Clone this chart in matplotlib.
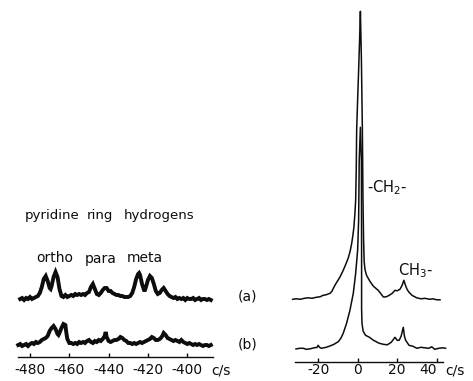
import matplotlib
matplotlib.use("Agg")
import matplotlib.pyplot as plt

# ---------------- data ----------------
# Left panel: pyridine ring hydrogens, frequency in c/s, intensity (arb. units)
ring_x_a = [-485, -484, -483, -482, -481, -480, -479, -478, -477, -476, -475, -474,
            -473, -472, -471, -470, -469.5, -469, -468, -467, -466, -465, -464, -463,
            -462, -461, -460, -459, -458, -457, -456, -455, -454, -453, -452, -451,
            -450, -449, -448, -447, -446, -445, -444, -443, -442, -441, -440, -439,
            -438, -437, -436, -435, -434, -433, -432, -431, -430, -429, -428, -427,
            -426, -425, -424.5, -424, -423, -422, -421.5, -421, -420, -419, -418,
            -417, -416, -415, -414, -413, -412, -411, -410, -409, -408, -407, -406,
            -405, -404, -403, -402, -401, -400, -399, -398, -397, -396, -395, -394,
            -393, -392, -391, -390, -389, -388]
ring_y_a = [0, 1, -1, 1, 0, 2, 0, 1, 2, 3, 6, 12,
            20, 23, 18, 11, 10, 13, 22, 27, 22, 10, 3, 2,
            4, 2, 3, 4, 3, 5, 4, 5, 4, 5, 4, 6,
            7, 12, 15, 10, 5, 4, 6, 9, 11, 11, 8, 8,
            6, 5, 4, 4, 3, 3, 2, 2, 2, 3, 6, 12,
            20, 25, 26, 24, 15, 9, 9, 12, 19, 23, 21,
            15, 8, 5, 6, 9, 11, 8, 5, 3, 2, 1, 2,
            0, 1, 0, 1, -1, 1, 0, 0, 1, -1, 0, 1,
            -1, 0, 0, -1, 0, -1]

ring_x_b = [-486, -485, -484, -483, -482, -481, -480, -479, -478, -477, -476, -475,
            -474, -473, -472, -471, -470, -469, -468, -467, -466, -465.5, -465, -464,
            -463, -462, -461.5, -461, -460, -459, -458, -457, -456, -455, -454, -453,
            -452, -451, -450, -449, -448, -447, -446, -445, -444, -443, -442, -441.5,
            -441, -440, -439, -438, -437, -436, -435, -434, -433, -432, -431, -430,
            -429, -428, -427, -426, -425, -424, -423, -422, -421, -420, -419, -418,
            -417, -416, -415, -414, -413, -412, -411, -410, -409, -408, -407, -406,
            -405, -404, -403, -402, -401, -400, -399, -398, -397, -396, -395, -394,
            -393, -392, -391, -390, -389, -388]
ring_y_b = [0, 1, -1, 0, 1, -1, 1, 2, 1, 3, 2, 3,
            5, 6, 7, 9, 14, 17, 19, 16, 11, 10, 12, 17,
            21, 20, 12, 6, 2, 2, 1, 2, 1, 3, 2, 3,
            2, 4, 5, 3, 2, 4, 3, 5, 4, 6, 9, 13,
            8, 4, 3, 4, 5, 5, 6, 8, 7, 5, 4, 2,
            2, 1, 2, 1, 2, 3, 2, 3, 4, 5, 6, 8,
            7, 5, 5, 6, 8, 12, 10, 7, 6, 5, 4, 5,
            4, 3, 5, 3, 2, 1, 2, 1, 0, 1, 0, 1,
            0, -1, 0, 0, -1, 0]

# Right panel: -CH2- and CH3- region
alk_x_a = [-32.9, -31, -29, -27, -25, -23, -21, -19, -17.5, -16, -14, -13, -12.3,
           -11.5, -10.6, -9, -7.3, -6, -4.8, -3.8, -3.0, -2.4, -1.9, -1.4, -1.0,
           -0.7, -0.5, 0.0, 0.5, 1.0, 1.4, 1.9, 2.4, 2.7, 3.0, 3.3, 3.7, 4.5, 6.2,
           8, 10.4, 12, 13, 14.5, 16, 17.5, 18.9, 20, 21.4, 22.5, 23.4, 24.2, 25,
           26, 27.5, 29.9, 32, 34, 36.6, 38, 40, 41.7]
alk_y_a = [0, 0.5, 0, 1, 1.5, 1, 2, 2.5, 4, 4.5, 6, 8, 11,
           14, 17, 22, 29, 35, 41, 48, 56, 64, 72, 85, 99,
           130, 169, 200, 229, 260, 288, 240, 169, 100, 60, 38, 30, 24, 18,
           13, 9, 5, 2.3, 2.5, 4, 6, 9, 8.5, 10, 14, 19, 14, 10,
           7, 4, 1.5, 0.5, 1, 0, 0.5, -0.5, -0.5]

alk_x_b = [-31.2, -29.5, -27.5, -26, -24, -22, -20.5, -20, -19.3, -18.3, -16, -14,
           -12, -9.8, -8.5, -7.3, -5.6, -3.9, -2.2, -1.0, 0.0, 0.5, 0.8, 1.4,
           1.9, 2.0, 2.0, 2.2, 2.8, 4, 6, 8, 11, 13, 15, 17, 18.9, 20, 21, 22,
           23.1, 23.7, 24.3, 26, 28, 30, 32, 34, 36, 37.5, 39, 41, 43, 44.5]
alk_y_b = [-0.7, 0, 0, -1, -0.5, 0.5, 1, 3, 1, 0, 1, 2.3,
           4, 6.6, 10, 15, 25, 38, 55, 75, 98, 128, 188, 221,
           188, 100, 40, 25, 17, 13, 11, 8, 5, 4, 3.5, 6, 11, 8, 8, 12,
           21, 12, 8, 3, 2, 0, 1, 0.5, 0, 1.5, -1, 0, 0.5, 0]

ring_ticks = [-480, -460, -440, -420, -400]
ring_ticklabels = ["-480", "-460", "-440", "-420", "-400"]
alk_ticks = [-20, 0, 20, 40]
alk_ticklabels = ["-20", "0", "20", "40"]

# ---------------- layout ----------------
W, H = 473, 381
fig = plt.figure(figsize=(W / 100, H / 100), dpi=100)
fig.patch.set_facecolor("white")


def fx(px):
    return px / W


def fy(py):
    return 1 - py / H


ink = "#0d0d0d"

# left axes (1 y-unit = 1 pixel)
axL = fig.add_axes([fx(18), fy(357), fx(213) - fx(18), fy(0) - fy(357)])
axL.set_xlim(-486.1, -386.9)
axL.set_ylim(0, 357)
off_La, off_Lb = 58, 12
axL.plot(ring_x_a, [v + off_La for v in ring_y_a], color=ink, lw=2.8,
         solid_joinstyle="miter", clip_on=False)
axL.plot(ring_x_b, [v + off_Lb for v in ring_y_b], color=ink, lw=2.8,
         solid_joinstyle="miter", clip_on=False)

# right axes
axR = fig.add_axes([fx(295), fy(361.7), fx(443) - fx(295), fy(0) - fy(361.7)])
axR.set_xlim(-31.7, 43.2)
axR.set_ylim(0, 361.7)
off_Ra, off_Rb = 62.4, 13.4
axR.plot(alk_x_a, [v + off_Ra for v in alk_y_a], color=ink, lw=1.1, clip_on=False)
axR.plot(alk_x_b, [v + off_Rb for v in alk_y_b], color=ink, lw=1.1, clip_on=False)

for ax, ticks, labels, pad in ((axL, ring_ticks, ring_ticklabels, 4.5),
                               (axR, alk_ticks, alk_ticklabels, 1.0)):
    for s in ("top", "left", "right"):
        ax.spines[s].set_visible(False)
    ax.spines["bottom"].set_linewidth(1.0)
    ax.spines["bottom"].set_color(ink)
    ax.set_yticks([])
    ax.set_xticks(ticks)
    ax.set_xticklabels(labels)
    ax.tick_params(axis="x", direction="in", length=3, width=1.0, colors=ink,
                   labelsize=10, pad=pad)
    ax.patch.set_alpha(0)

# nudge the "40" label slightly left like in the original
axR.get_xticklabels()[-1].set_horizontalalignment("right")
axR.get_xticklabels()[-1].set_x(41.5)

# ---------------- labels ----------------
def t(x, y, s, size=10):
    fig.text(fx(x), fy(y), s, ha="left", va="baseline", fontsize=size, color=ink)


t(25, 219, "pyridine", 9.6)
t(87, 219, "ring", 9.6)
t(124, 219, "hydrogens", 9.6)
t(36.7, 262.5, "ortho", 10)
t(85, 262.5, "para", 10)
t(126.7, 262.5, "meta", 10)
t(238, 300, "(a)", 10)
t(238, 349, "(b)", 10)
t(366.7, 192, "-CH$_2$-", 10.5)
t(398, 275, "CH$_3$-", 10.5)
t(211, 374, "c/s", 10)
t(445, 374, "c/s", 10)

fig.savefig("out.png", dpi=100)
